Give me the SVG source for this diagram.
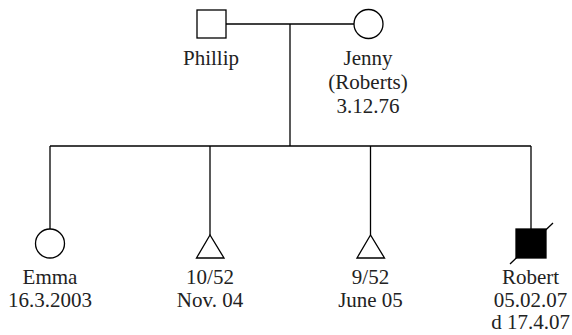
<svg xmlns="http://www.w3.org/2000/svg" width="572" height="335" viewBox="0 0 572 335">
<style>
.ln{stroke:#000;stroke-width:1.3;fill:none}
.sym{stroke:#000;stroke-width:1.3;fill:#fff}
.aff{stroke:#000;stroke-width:1.3;fill:#000}
text{font-family:"Liberation Serif","Times New Roman",serif;font-size:21px;fill:#222;text-anchor:middle}
</style>
<rect width="572" height="335" fill="#fff"/>
<g id="connectors">
<line class="ln" x1="226" y1="24" x2="354" y2="24"/>
<line class="ln" x1="290" y1="24" x2="290" y2="146"/>
<line class="ln" x1="50" y1="146" x2="531" y2="146"/>
<line class="ln" x1="50" y1="146" x2="50" y2="229"/>
<line class="ln" x1="210" y1="146" x2="210" y2="235"/>
<line class="ln" x1="370.5" y1="146" x2="370.5" y2="235"/>
<line class="ln" x1="531" y1="146" x2="531" y2="229"/>
</g>
<g id="phillip">
<rect class="sym" x="197" y="10" width="29" height="28"/>
<text x="211" y="65">Phillip</text>
</g>
<g id="jenny">
<circle class="sym" cx="368.5" cy="24" r="14.5"/>
<text x="368" y="65">Jenny</text>
<text x="368" y="89">(Roberts)</text>
<text x="368" y="112.5">3.12.76</text>
</g>
<g id="emma">
<circle class="sym" cx="50" cy="243.5" r="14.5"/>
<text x="50" y="284">Emma</text>
<text x="50" y="306.5">16.3.2003</text>
</g>
<g id="preg1">
<polygon class="sym" points="210,235 196.5,258 224,258"/>
<text x="210" y="284">10/52</text>
<text x="210" y="306.5">Nov. 04</text>
</g>
<g id="preg2">
<polygon class="sym" points="370.5,235 357,258 384.5,258"/>
<text x="370.5" y="284">9/52</text>
<text x="370.5" y="306.5">June 05</text>
</g>
<g id="robert">
<rect class="aff" x="516" y="229" width="30" height="29"/>
<line class="ln" x1="510" y1="264" x2="553" y2="223"/>
<text x="530.5" y="284">Robert</text>
<text x="530.5" y="306.5">05.02.07</text>
<text x="530.5" y="329">d 17.4.07</text>
</g>
</svg>
